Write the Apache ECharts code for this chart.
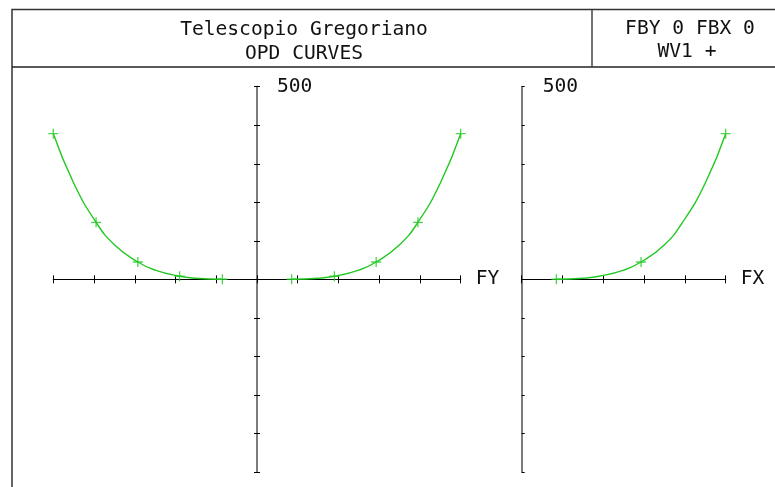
<!DOCTYPE html>
<html>
<head>
<meta charset="utf-8">
<script src="https://cdn.jsdelivr.net/npm/echarts@6/dist/echarts.min.js"></script>
<style>
  html, body { margin: 0; padding: 0; background: #fff; }
  #chart { width: 775px; height: 487px; }
</style>
</head>
<body>
<div id="chart"></div>
<script>
// Header text
const titleLines = ['Telescopio Gregoriano', 'OPD CURVES'];
const infoLines = ['FBY 0 FBX 0', 'WV1 +'];
const axisNames = ['FY', 'FX'];

// Scale: OPD in waves, pupil coordinate normalised to 1
const yScaleMax = 500;
const yTickStep = 100;
const pupilTickStep = 0.2;

// Tangential fan (FY): traced curve on both halves of the annular pupil
const fyCurvePupilNeg = [-1.0, -0.9, -0.79, -0.7, -0.585, -0.5, -0.38, -0.3, -0.17];
const fyCurveOpdNeg = [378, 250, 148, 90, 45, 24, 8, 3, 0.3];
const fyCurvePupilPos = [0.17, 0.3, 0.38, 0.5, 0.585, 0.7, 0.79, 0.9, 1.0];
const fyCurveOpdPos = [0.3, 3, 8, 24, 45, 90, 148, 250, 378];
// FY ray markers
const fyMarkerPupil = [-1.0, -0.79, -0.585, -0.38, -0.17, 0.17, 0.38, 0.585, 0.79, 1.0];
const fyMarkerOpd = [378, 148, 45, 8, 0.3, 0.3, 8, 45, 148, 378];

// Sagittal fan (FX): positive half only
const fxCurvePupil = [0.17, 0.3, 0.38, 0.5, 0.585, 0.7, 0.79, 0.9, 1.0];
const fxCurveOpd = [0.3, 3, 8, 24, 45, 90, 149, 250, 378];
const fxMarkerPupil = [0.17, 0.585, 1.0];
const fxMarkerOpd = [0.3, 45, 378];

const zip = (xs, ys) => xs.map((x, i) => [x, ys[i]]);

const FONT = '"DejaVu Sans Mono", "Liberation Mono", monospace';
const TEXT_SIZE = 19.6;
const CURVE = '#22c822';
const PLUS = 'path://M5,0L5,10M0,5L10,5';

// left plot: the vertical axis sits at pupil 0, in the middle of the grid
const FY_GRID = { left: 53.3, top: 86.7, width: 407.4, height: 385.3 };
const FX_GRID = { left: 521.7, top: 86.7, width: 204, height: 385.3 };

function xAxisPair(grid, min, name) {
  const base = {
    gridIndex: grid, type: 'value', min: min, max: 1, interval: pupilTickStep,
    axisLine: { onZero: false, lineStyle: { color: '#000', width: 1 } },
    axisLabel: { show: false },
    splitLine: { show: false },
    position: 'bottom',
    offset: -385.3 / 2
  };
  return [
    Object.assign({}, base, {
      axisTick: { show: true, inside: false, length: 4, lineStyle: { color: '#000', width: 1 } },
      name: name, nameLocation: 'end', nameGap: 15,
      nameTextStyle: { fontFamily: FONT, fontSize: TEXT_SIZE, color: '#111', verticalAlign: 'middle', padding: [3, 0, 0, 0] }
    }),
    Object.assign({}, base, {
      axisTick: { show: true, inside: true, length: 4, lineStyle: { color: '#000', width: 1 } }
    })
  ];
}

function yAxisBase(grid, offset, tickInside, showLabel, margin) {
  return {
    gridIndex: grid, type: 'value', min: -yScaleMax, max: yScaleMax, interval: yTickStep,
    position: 'left', offset: offset,
    axisLine: { show: true, onZero: false, lineStyle: { color: '#7c7c7c', width: 2 } },
    axisTick: { show: true, inside: tickInside, length: 3, lineStyle: { color: '#000', width: 1 } },
    axisLabel: {
      show: showLabel, inside: true, margin: margin,
      fontFamily: FONT, fontSize: TEXT_SIZE, color: '#111',
      formatter: v => (v === yScaleMax ? String(yScaleMax) : '')
    },
    splitLine: { show: false }
  };
}

function curve(xi, yi, data) {
  return {
    type: 'line', xAxisIndex: xi, yAxisIndex: yi, data: data,
    smooth: 0.5, showSymbol: false, symbol: 'none',
    lineStyle: { color: CURVE, width: 1.4 }, clip: false, z: 5
  };
}
function markers(xi, yi, data) {
  return {
    type: 'scatter', xAxisIndex: xi, yAxisIndex: yi, data: data,
    symbol: PLUS, symbolSize: 10,
    itemStyle: { color: 'none', borderColor: CURVE, borderWidth: 1.3 },
    clip: false, z: 6
  };
}

const chart = echarts.init(document.getElementById('chart'), null, { renderer: 'canvas' });

const option = {
  animation: false,
  backgroundColor: '#fff',
  grid: [FY_GRID, FX_GRID],
  xAxis: [].concat(xAxisPair(0, -1, axisNames[0]), xAxisPair(1, 0, axisNames[1])),
  yAxis: [
    yAxisBase(0, -FY_GRID.width / 2, false, true, 20),
    yAxisBase(0, -FY_GRID.width / 2, true, false, 20),
    yAxisBase(1, 0, true, true, 21)
  ],
  series: [
    curve(0, 0, zip(fyCurvePupilNeg, fyCurveOpdNeg)),
    curve(0, 0, zip(fyCurvePupilPos, fyCurveOpdPos)),
    markers(0, 0, zip(fyMarkerPupil, fyMarkerOpd)),
    curve(2, 2, zip(fxCurvePupil, fxCurveOpd)),
    markers(2, 2, zip(fxMarkerPupil, fxMarkerOpd))
  ],
  graphic: [
    // plot frame and header box
    { type: 'polyline', silent: true, shape: { points: [[12, 487], [12, 9.5], [790, 9.5]] }, style: { stroke: '#333', lineWidth: 1.5, fill: null } },
    { type: 'line', silent: true, shape: { x1: 12, y1: 67, x2: 790, y2: 67 }, style: { stroke: '#222', lineWidth: 1.5 } },
    { type: 'line', silent: true, shape: { x1: 592, y1: 9.5, x2: 592, y2: 67 }, style: { stroke: '#444', lineWidth: 1.5 } },
    { type: 'text', silent: true, style: { text: titleLines[0], x: 304, y: 29.5, textAlign: 'center', textVerticalAlign: 'middle', font: TEXT_SIZE + 'px ' + FONT, fill: '#111' } },
    { type: 'text', silent: true, style: { text: titleLines[1], x: 304, y: 53.7, textAlign: 'center', textVerticalAlign: 'middle', font: TEXT_SIZE + 'px ' + FONT, fill: '#111' } },
    { type: 'text', silent: true, style: { text: infoLines[0], x: 690, y: 28.5, textAlign: 'center', textVerticalAlign: 'middle', font: TEXT_SIZE + 'px ' + FONT, fill: '#111' } },
    { type: 'text', silent: true, style: { text: infoLines[1], x: 687, y: 51.5, textAlign: 'center', textVerticalAlign: 'middle', font: TEXT_SIZE + 'px ' + FONT, fill: '#111' } }
  ]
};

chart.setOption(option);
</script>
</body>
</html>
